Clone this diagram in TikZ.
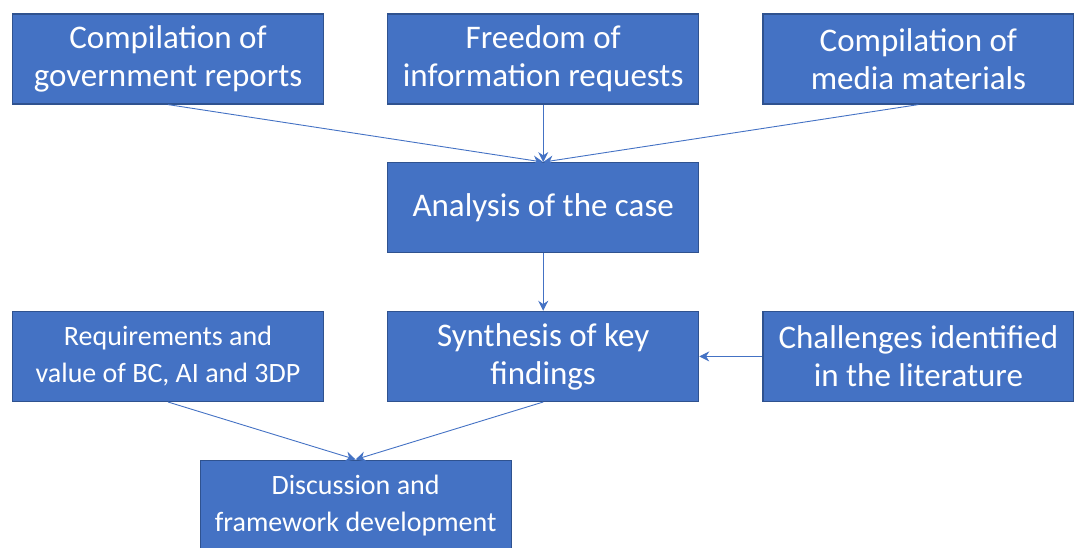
\documentclass[tikz,border=0pt]{standalone}
\usepackage{fontspec}
\setmainfont{Carlito}
\usepackage{tikz}
\usetikzlibrary{positioning,arrows.meta,calc}
\definecolor{boxFill}{HTML}{4472C4}
\definecolor{boxLine}{HTML}{2F528F}
\colorlet{flowArrow}{boxFill}

\begin{document}
\begin{tikzpicture}[
  x=1pt,y=1pt,
  node distance=57.5pt and 63pt,
  every stage/.style={
    draw=boxLine,
    line width=1.2pt,
    fill=boxFill,
    text=white,
    minimum width=311pt,
    minimum height=90pt,
    inner sep=0pt,
    align=center,
  },
  stage/.style={
    every stage/.try,
    font=\fontsize{33}{38}\selectfont,
  },
  small stage/.style={
    every stage/.try,
    font=\fontsize{28}{37}\selectfont,
  },
  flow/.style={
    draw=flowArrow,
    line width=0.9pt,
    -{Stealth[length=10pt,width=10pt]},
  }
]
\useasboundingbox (0,0) rectangle (1074,-547);
% sources
\node[stage] (reports) at (168,-59) {Compilation of\\government reports};
\node[stage,right=of reports] (foia) {Freedom of\\information requests};
\node[stage,right=of foia] (media) {Compilation of\\media materials};
% analysis and synthesis
\node[stage,below=of foia] (analysis) {Analysis of the case};
\node[stage,below=of analysis] (synthesis) {Synthesis of key\\findings};
\node[small stage,left=of synthesis] (value) {Requirements and\\value of BC, AI and 3DP};
\node[stage,right=of synthesis] (challenges) {Challenges identified\\in the literature};
\node[small stage,below=of {$(value.south)!0.5!(synthesis.south)$}] (discussion) {Discussion and\\framework development};
\foreach \src in {reports,foia,media}
  \draw[flow] (\src.south) -- (analysis.north);
\draw[flow] (analysis) -- (synthesis);
\draw[flow] (challenges) -- (synthesis);
\foreach \src in {value,synthesis}
  \draw[flow] (\src.south) -- (discussion.north);
\end{tikzpicture}
\end{document}
